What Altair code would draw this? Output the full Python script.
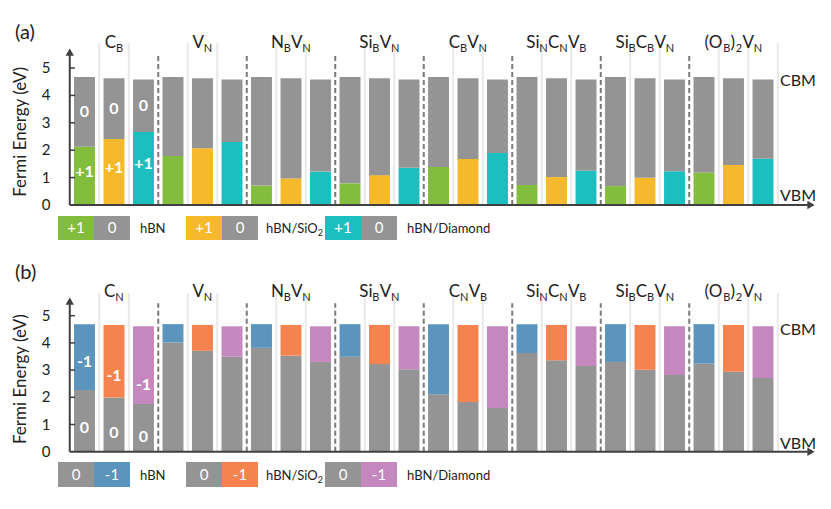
import re
import altair as alt
import pandas as pd

# ---------------- data ----------------
SUBSTRATES = ["hBN", "hBN/SiO2", "hBN/Diamond"]
SUBSTRATE_LABELS = ["hBN", "hBN/SiO_{2}", "hBN/Diamond"]

DEFECTS_A = ["C_{B}", "V_{N}", "N_{B}V_{N}", "Si_{B}V_{N}", "C_{B}V_{N}",
             "Si_{N}C_{N}V_{B}", "Si_{B}C_{B}V_{N}", "(O_{B})_{2}V_{N}"]
DEFECTS_B = ["C_{N}", "V_{N}", "N_{B}V_{N}", "Si_{B}V_{N}", "C_{N}V_{B}",
             "Si_{N}C_{N}V_{B}", "Si_{B}C_{B}V_{N}", "(O_{B})_{2}V_{N}"]

# (+1/0) transition levels (eV above VBM), panel (a)
A_HBN = [2.13, 1.79, 0.71, 0.79, 1.39, 0.73, 0.69, 1.19]
A_SIO2 = [2.41, 2.07, 0.97, 1.09, 1.68, 1.02, 0.99, 1.46]
A_DIAM = [2.66, 2.30, 1.22, 1.36, 1.90, 1.25, 1.23, 1.69]
# (0/-1) transition levels (eV above VBM), panel (b)
B_HBN = [2.27, 4.01, 3.82, 3.49, 2.11, 3.63, 3.30, 3.24]
B_SIO2 = [1.99, 3.71, 3.53, 3.22, 1.83, 3.36, 3.01, 2.94]
B_DIAM = [1.75, 3.49, 3.30, 3.03, 1.61, 3.15, 2.82, 2.71]
# conduction band minimum for each substrate
CBM_A = [4.67, 4.63, 4.58]
CBM_B = [4.69, 4.66, 4.61]
Y_TICKS = [0, 1, 2, 3, 4, 5]

# annotation text positions for first group of panel (b)
ANN_B_UP_Y = [3.31, 2.77, 2.45]
ANN_B_LOW_Y = [0.86, 0.68, 0.53]

# ---------------- style ----------------
FONT = "Lato"
COLORS_A = ["#83BD3E", "#F6B92B", "#1CBFBF"]
COLORS_B = ["#5B94BD", "#F4834F", "#C588BE"]
GRAY = "#949494"
AXIS_C = "#404040"
TEXT_C = "#222222"

PX_K = 29.5          # pixels per bar slot
AXIS_PX = 69.75      # page x of the y axis
W = 815


def px2k(px):
    return (px - AXIS_PX) / PX_K


KMIN, KMAX = px2k(8), px2k(8 + W)
XS = alt.Scale(domain=[KMIN, KMAX], nice=False, zero=False)
BAR_HALF = 0.355

CW = {'h': .56, 'B': .63, 'N': .75, '/': .37, 'S': .52, 'i': .24, 'O': .80,
      'C': .66, 'V': .66, '(': .30, ')': .30, '2': .58, 'D': .74, 'a': .50,
      'm': .84, 'o': .57, 'n': .56, 'd': .57}


def text_w(t, fs):
    return sum(CW.get(c, .55) for c in t) * fs


def segments(label, start_px=None, center_k=None, main_fs=17, sub_fs=11, gap=0.5, pre=0.0):
    segs = []
    for m, s in re.findall(r"([^_{}]+)|_\{([^}]*)\}", label):
        segs.append((m, 0) if m else (s, 1))
    widths = [text_w(t, sub_fs if sb else main_fs) + ((gap + pre) if sb else 0) for t, sb in segs]
    total = sum(widths)
    if center_k is not None:
        x = center_k - total / 2 / PX_K
    else:
        x = px2k(start_px)
    rows = []
    for (t, sb), w in zip(segs, widths):
        rows.append(dict(x=x + (pre / PX_K if sb else 0), t=t, sub=sb))
        x += w / PX_K
    return rows


def xq(f="x"):
    return alt.X(f"{f}:Q", scale=XS, axis=None)


def panel(defects, levels, cbm, colors, kind, tag, ymin, ymax, h, geo):
    YS = alt.Scale(domain=[ymin, ymax], nice=False, zero=False)

    def yq(f="y"):
        return alt.Y(f"{f}:Q", scale=YS, axis=None)

    bars, ann = [], []
    for g in range(len(defects)):
        for j in range(3):
            k = 3 * g + j
            lv = levels[j][g]
            x1, x2 = k + 0.5 - BAR_HALF, k + 0.5 + BAR_HALF
            if kind == "a":
                bars.append(dict(x=x1, x2=x2, y=0, y2=lv, c=colors[j]))
                bars.append(dict(x=x1, x2=x2, y=lv, y2=cbm[j], c=GRAY))
                if g == 0:
                    ann.append(dict(x=k + 0.5, y=(lv + cbm[j]) / 2, t="0"))
                    ann.append(dict(x=k + 0.5, y=lv / 2 + 0.15, t="+1"))
            else:
                bars.append(dict(x=x1, x2=x2, y=0, y2=lv, c=GRAY))
                bars.append(dict(x=x1, x2=x2, y=lv, y2=cbm[j], c=colors[j]))
                if g == 0:
                    ann.append(dict(x=k + 0.5, y=ANN_B_UP_Y[j], t="-1"))
                    ann.append(dict(x=k + 0.5, y=ANN_B_LOW_Y[j], t="0"))
    nslots = 3 * len(defects)
    grid = pd.DataFrame([dict(x=k, y=0, y2=geo["grid_top"]) for k in range(1, nslots + 1) if k % 3 or k == nslots])
    dash = pd.DataFrame([dict(x=k, y=0, y2=geo["dash_top"]) for k in range(3, nslots, 3)])

    arrow_end = px2k(811)
    axes = pd.DataFrame([dict(x=0, x2=0, y=0, y2=geo["arrow_top"]),
                         dict(x=0, x2=arrow_end, y=0, y2=0)])
    arrows = pd.DataFrame([dict(x=0, y=geo["arrow_top"], s="triangle-up"),
                           dict(x=arrow_end, y=0, s="triangle-right")])
    ticks = pd.DataFrame([dict(x=0, x2=px2k(75), y=v) for v in Y_TICKS[1:]])
    ticklab = pd.DataFrame([dict(x=px2k(46), y=v, t=str(v)) for v in Y_TICKS])
    bandlab = pd.DataFrame([dict(x=px2k(780), y=geo["cbm_y"], t="CBM"),
                            dict(x=px2k(780), y=geo["vbm_y"], t="VBM")])
    glab = []
    for g, d in enumerate(defects):
        for r in segments(d, center_k=3 * g + 1.5, main_fs=17, sub_fs=11):
            r["y"] = geo["lab_y"]
            glab.append(r)
    glab = pd.DataFrame(glab)

    layers = [
        alt.Chart(grid).mark_rule(color="#E9E9E9", strokeWidth=2).encode(x=xq(), y=yq(), y2="y2:Q"),
        alt.Chart(pd.DataFrame(bars)).mark_rect().encode(
            x=xq(), x2="x2:Q", y=yq(), y2="y2:Q", color=alt.Color("c:N", scale=None)),
        alt.Chart(dash).mark_rule(color="#7A7A7A", strokeWidth=2, strokeDash=[5, 3]).encode(
            x=xq(), y=yq(), y2="y2:Q"),
        alt.Chart(axes).mark_rule(color=AXIS_C, strokeWidth=2).encode(
            x=xq(), x2="x2:Q", y=yq(), y2="y2:Q"),
        alt.Chart(arrows).mark_point(filled=True, color=AXIS_C, size=70, opacity=1).encode(
            x=xq(), y=yq(), shape=alt.Shape("s:N", scale=None)),
        alt.Chart(ticks).mark_rule(color=AXIS_C, strokeWidth=1.5).encode(x=xq(), x2="x2:Q", y=yq()),
        alt.Chart(ticklab).mark_text(font=FONT, fontSize=15, color=TEXT_C, align="center",
                                     baseline="middle").encode(x=xq(), y=yq(), text="t:N"),
        alt.Chart(pd.DataFrame([dict(x=px2k(21), y=2.67, t="Fermi Energy (eV)")])).mark_text(
            font=FONT, fontSize=17, color=TEXT_C, angle=270, align="center", baseline="middle").encode(
            x=xq(), y=yq(), text="t:N"),
        alt.Chart(bandlab).mark_text(font=FONT, fontSize=16, color=TEXT_C, align="left",
                                     baseline="middle").encode(x=xq(), y=yq(), text="t:N"),
        alt.Chart(glab).transform_filter("datum.sub == 0").mark_text(
            font=FONT, fontSize=17, color=TEXT_C, align="left", baseline="alphabetic").encode(
            x=xq(), y=yq(), text="t:N"),
        alt.Chart(glab).transform_filter("datum.sub == 1").mark_text(
            font=FONT, fontSize=11, color=TEXT_C, align="left", baseline="alphabetic", dy=4).encode(
            x=xq(), y=yq(), text="t:N"),
        alt.Chart(pd.DataFrame([dict(x=px2k(15), y=geo["tag_y"], t=tag)])).mark_text(
            font=FONT, fontSize=20, color=TEXT_C, align="left", baseline="alphabetic").encode(
            x=xq(), y=yq(), text="t:N"),
        alt.Chart(pd.DataFrame(ann)).mark_text(
            font=FONT, fontSize=16, fontWeight="bold", color="white", align="center",
            baseline="middle").encode(x=xq(), y=yq(), text="t:N"),
    ]
    return alt.layer(*layers).properties(width=W, height=h)


def legend(colors, kind, h, top, bot):
    YS = alt.Scale(domain=[0, h], nice=False, zero=False, reverse=True)

    def yq(f="y"):
        return alt.Y(f"{f}:Q", scale=YS, axis=None)

    block_x = [58, 186, 325]
    label_x = [140, 266, 407]
    bw = 36
    lab_fs, lab_sub_fs = 13, 9
    blocks, btext, lab = [], [], []
    for i in range(3):
        x0 = block_x[i]
        if kind == "a":
            parts = [(colors[i], "+1"), (GRAY, "0")]
        else:
            parts = [(GRAY, "0"), (colors[i], "-1")]
        for p, (c, t) in enumerate(parts):
            xa = x0 + p * bw
            blocks.append(dict(x=px2k(xa), x2=px2k(xa + bw), y=top, y2=bot, c=c))
            btext.append(dict(x=px2k(xa + bw / 2), y=(top + bot) / 2, t=t))
        for r in segments(SUBSTRATE_LABELS[i], start_px=label_x[i], main_fs=lab_fs,
                          sub_fs=lab_sub_fs, pre=1.5):
            r["y"] = (top + bot) / 2 + 5
            lab.append(r)
    lab = pd.DataFrame(lab)
    layers = [
        alt.Chart(pd.DataFrame(blocks)).mark_rect().encode(
            x=xq(), x2="x2:Q", y=yq(), y2="y2:Q", color=alt.Color("c:N", scale=None)),
        alt.Chart(pd.DataFrame(btext)).mark_text(font=FONT, fontSize=15, color="white",
                                                 align="center", baseline="middle").encode(
            x=xq(), y=yq(), text="t:N"),
        alt.Chart(lab).transform_filter("datum.sub == 0").mark_text(
            font=FONT, fontSize=lab_fs, color=TEXT_C, align="left", baseline="alphabetic").encode(
            x=xq(), y=yq(), text="t:N"),
        alt.Chart(lab).transform_filter("datum.sub == 1").mark_text(
            font=FONT, fontSize=lab_sub_fs, color=TEXT_C, align="left", baseline="alphabetic", dy=3).encode(
            x=xq(), y=yq(), text="t:N"),
    ]
    return alt.layer(*layers).properties(width=W, height=h)


geo_a = dict(lab_y=5.72, tag_y=6.06, grid_top=5.91, dash_top=5.47, arrow_top=5.58,
             cbm_y=4.53, vbm_y=0.33)
geo_b = dict(lab_y=5.70, tag_y=6.35, grid_top=5.83, dash_top=5.46, arrow_top=5.54,
             cbm_y=4.47, vbm_y=0.28)

pa = panel(DEFECTS_A, [A_HBN, A_SIO2, A_DIAM], CBM_A, COLORS_A, "a", "(a)",
           (205 - 212) / 27.4, (205 - 8) / 27.4, 204, geo_a)
la = legend(COLORS_A, "a", 38, 4, 28)
pb = panel(DEFECTS_B, [B_HBN, B_SIO2, B_DIAM], CBM_B, COLORS_B, "b", "(b)",
           (451.7 - 456) / 27.2, (451.7 - 250) / 27.2, 206, geo_b)
lb = legend(COLORS_B, "b", 44, 6, 31)

chart = alt.vconcat(pa, la, pb, lb, spacing=0, bounds="flush").properties(
    padding=0).configure_view(stroke=None)

chart.save("out.html", embed_options={"renderer": "svg", "actions": False})
